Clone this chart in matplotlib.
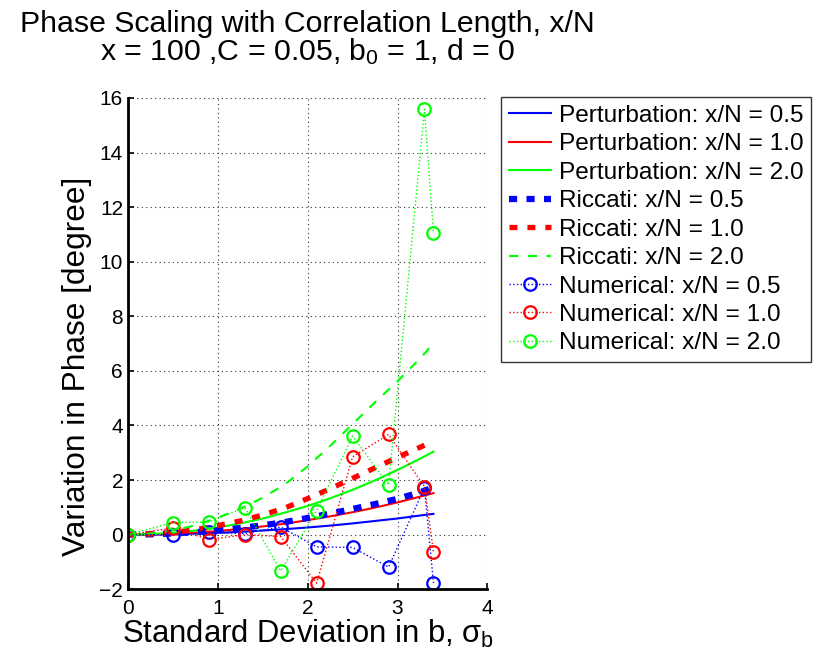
import numpy as np
import matplotlib
matplotlib.use("Agg")
from matplotlib import pyplot as plt

plt.rcParams['font.family'] = ['Liberation Sans', 'DejaVu Sans']
plt.rcParams['mathtext.fontset'] = 'custom'
plt.rcParams['mathtext.rm'] = 'Liberation Sans'
plt.rcParams['mathtext.it'] = 'Liberation Sans'

# smooth curves
sigma = [0, 0.25, 0.5, 0.75, 1.0, 1.25, 1.5, 1.75, 2.0, 2.25, 2.5, 2.75, 3.0, 3.25, 3.4]
pert_05 = [0, 0.004, 0.016, 0.037, 0.066, 0.10, 0.15, 0.20, 0.26, 0.33, 0.41, 0.50, 0.59, 0.70, 0.76]
pert_10 = [0, 0.008, 0.033, 0.074, 0.13, 0.21, 0.30, 0.40, 0.53, 0.67, 0.82, 0.99, 1.18, 1.39, 1.52]
pert_20 = [0, 0.017, 0.066, 0.15, 0.26, 0.41, 0.59, 0.81, 1.05, 1.33, 1.64, 1.99, 2.37, 2.78, 3.04]
ricc_05 = [0, 0.01, 0.04, 0.09, 0.16, 0.24, 0.34, 0.46, 0.61, 0.77, 0.94, 1.12, 1.31, 1.55, 1.73]
ricc_10 = [0, 0.02, 0.08, 0.18, 0.33, 0.50, 0.72, 0.98, 1.32, 1.68, 2.06, 2.45, 2.83, 3.20, 3.43]
ricc_20 = [0, 0.04, 0.15, 0.34, 0.62, 0.95, 1.35, 1.85, 2.50, 3.25, 4.05, 4.85, 5.62, 6.45, 7.00]

# numerical points
sigma_num = [0, 0.5, 0.9, 1.3, 1.7, 2.1, 2.5, 2.9, 3.3, 3.4]
num_05 = [0, -0.01, 0.08, 0.04, 0.28, -0.45, -0.47, -1.19, 1.71, -1.77]
num_10 = [0, 0.24, -0.18, 0.0, -0.07, -1.78, 2.85, 3.67, 1.76, -0.63]
num_20 = [0, 0.44, 0.46, 0.99, -1.33, 0.88, 3.61, 1.82, 15.58, 11.07]

labels = ["0.5", "1.0", "2.0"]
colors = [(0, 0, 1), (1, 0, 0), (0, 1, 0)]

fig = plt.figure(figsize=(8.15, 6.62), dpi=100)
ax = fig.add_axes([0.157, 0.110, 0.441, 0.742])

for y, c, l in zip([pert_05, pert_10, pert_20], colors, labels):
    ax.plot(sigma, y, '-', color=c, lw=1.5, label=f"Perturbation: x/N = {l}")
ricc_style = [(4.5, (1.3, 1.5)), (3.8, (1.5, 1.9)), (1.5, (4.5, 4.5))]
for y, c, l, (w, d) in zip([ricc_05, ricc_10, ricc_20], colors, labels, ricc_style):
    ax.plot(sigma, y, '--', color=c, lw=w, dashes=d, label=f"Riccati: x/N = {l}")
for y, c, l in zip([num_05, num_10, num_20], colors, labels):
    ax.plot(sigma_num, y, ':', color=c, lw=1, marker='o', ms=9, mfc='none', mec=c, mew=1.6,
            label=f"Numerical: x/N = {l}")

ax.set_xlim(0, 4)
ax.set_ylim(-2, 16)
ax.set_xticks([0, 1, 2, 3, 4])
ax.set_yticks(np.arange(-2, 17, 2))
ax.set_yticklabels(["\u22122"] + [str(v) for v in range(0, 17, 2)])
ax.grid(True, ls=(0, (1, 3)), color='0.2', lw=0.8)
for s in ['top', 'right']:
    ax.spines[s].set_visible(False)
for s in ['left', 'bottom']:
    ax.spines[s].set_linewidth(2)
ax.tick_params(direction='in', labelsize=15, width=1.2, length=4)
ax.tick_params(axis='x', pad=7)

ax.set_xlabel(r"Standard Deviation in b, $\sigma_{\rm b}$", fontsize=22.3, labelpad=0)
ax.set_ylabel("Variation in Phase [degree]", fontsize=22.8)
ax.yaxis.set_label_coords(-0.10, 0.454)
ax.set_title("Phase Scaling with Correlation Length, x/N\n"
             r"x = 100 ,C = 0.05, b$_{\rm 0}$ = 1, d = 0", fontsize=21.8, pad=27, linespacing=0.95)

leg = ax.legend(loc='upper left', bbox_to_anchor=(0.615, 0.853), bbox_transform=fig.transFigure,
                borderaxespad=0, fontsize=17.6, fancybox=False, edgecolor='black',
                handlelength=1.75, handletextpad=0.3, labelspacing=0.26, borderpad=0.3)
leg.get_frame().set_linewidth(1.0)

fig.savefig("out.png", dpi=100)
plt.close(fig)
